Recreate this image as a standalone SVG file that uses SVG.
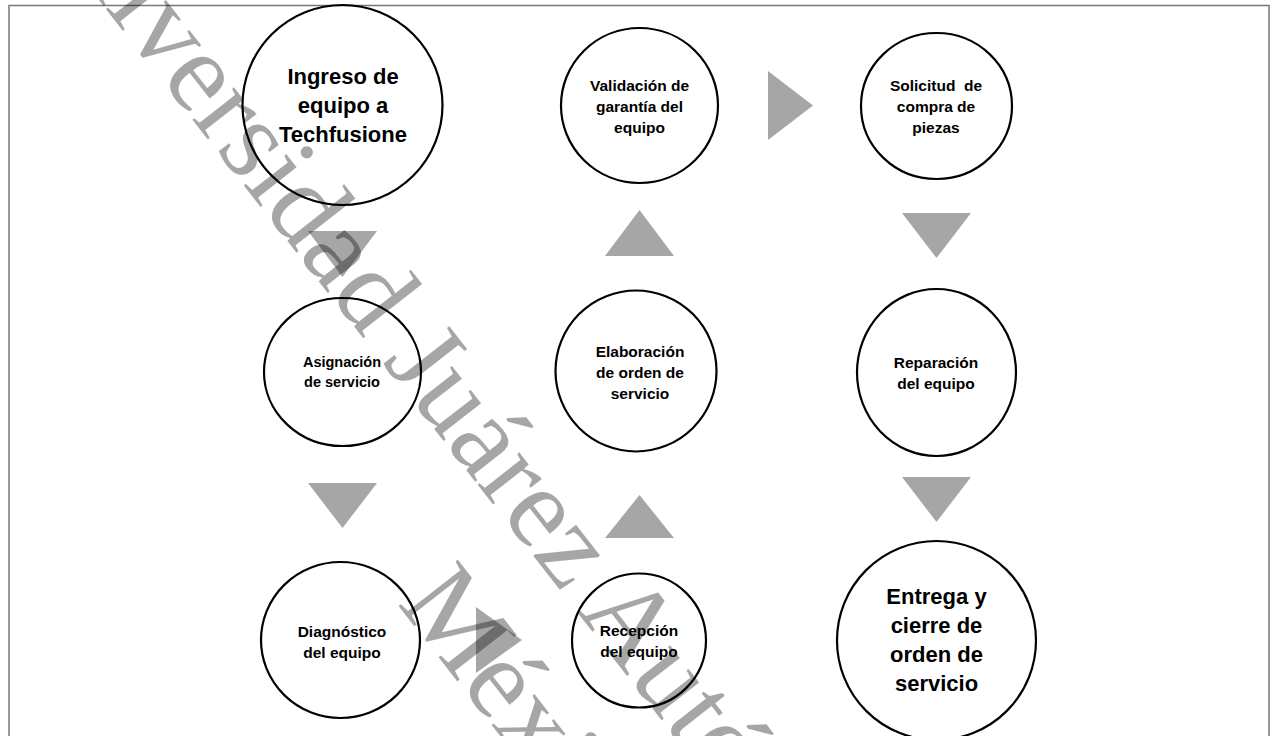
<svg xmlns="http://www.w3.org/2000/svg" width="1273" height="736" viewBox="0 0 1273 736">
<style>
.node{fill:none;stroke:#000;stroke-width:2.2}
.big{font-family:"Liberation Sans",Arial,sans-serif;font-weight:bold;font-size:22px;fill:#000;text-anchor:middle}
.sm{font-family:"Liberation Sans",Arial,sans-serif;font-weight:bold;font-size:15.5px;fill:#000;text-anchor:middle}
.tri{fill:#a6a6a6}
.wm{font-family:"Liberation Serif","Times New Roman",serif;font-size:115px;fill:#000;fill-opacity:0.35;text-anchor:middle}
</style>
<rect x="0" y="0" width="1273" height="736" fill="#fff"/>
<rect x="9" y="5.5" width="1260" height="745" fill="none" stroke="#777" stroke-width="1.5"/>
<g id="connectors">
<polygon class="tri" points="308,231 377,231 342.5,277"/>
<polygon class="tri" points="308,483 377,483 342.5,528"/>
<polygon class="tri" points="476,607 476,673 522,640"/>
<polygon class="tri" points="605,538 674,538 639.5,495"/>
<polygon class="tri" points="605,256 674,256 639.5,210"/>
<polygon class="tri" points="768,71 768,140 813,105.5"/>
<polygon class="tri" points="902,213 971,213 936.5,258"/>
<polygon class="tri" points="902,477 971,477 936.5,522"/>
</g>
<g id="n-ingreso">
<circle class="node" cx="342.5" cy="105" r="100"/>
<text class="big" x="343" y="84">Ingreso de</text>
<text class="big" x="343" y="113">equipo a</text>
<text class="big" x="343" y="142">Techfusione</text>
</g>
<g id="n-asignacion">
<ellipse class="node" cx="342.5" cy="372" rx="78.5" ry="74"/>
<text class="sm" x="342" y="367" style="font-size:14.5px">Asignación</text>
<text class="sm" x="342" y="387" style="font-size:14.5px">de servicio</text>
</g>
<g id="n-diagnostico">
<ellipse class="node" cx="340.5" cy="640" rx="79.5" ry="78"/>
<text class="sm" x="342" y="637">Diagnóstico</text>
<text class="sm" x="342" y="658">del equipo</text>
</g>
<g id="n-recepcion">
<circle class="node" cx="639" cy="640.5" r="67"/>
<text class="sm" x="639" y="636">Recepción</text>
<text class="sm" x="639" y="657">del equipo</text>
</g>
<g id="n-elaboracion">
<circle class="node" cx="636" cy="371" r="80.5"/>
<text class="sm" x="640" y="357">Elaboración</text>
<text class="sm" x="640" y="378">de orden de</text>
<text class="sm" x="640" y="399">servicio</text>
</g>
<g id="n-validacion">
<ellipse class="node" cx="639.5" cy="105.5" rx="78.5" ry="77.5"/>
<text class="sm" x="639.5" y="91">Validación de</text>
<text class="sm" x="639.5" y="112">garantía del</text>
<text class="sm" x="639.5" y="133">equipo</text>
</g>
<g id="n-solicitud">
<ellipse class="node" cx="936.5" cy="106" rx="75.5" ry="73"/>
<text class="sm" x="936" y="91" xml:space="preserve">Solicitud  de</text>
<text class="sm" x="936" y="112">compra de</text>
<text class="sm" x="936" y="133">piezas</text>
</g>
<g id="n-reparacion">
<ellipse class="node" cx="936.5" cy="372.5" rx="79.5" ry="83.5"/>
<text class="sm" x="936" y="368">Reparación</text>
<text class="sm" x="936" y="389">del equipo</text>
</g>
<g id="n-entrega">
<circle class="node" cx="936.5" cy="640.5" r="99.5"/>
<text class="big" x="936.5" y="604">Entrega y</text>
<text class="big" x="936.5" y="633">cierre de</text>
<text class="big" x="936.5" y="662">orden de</text>
<text class="big" x="936.5" y="691">servicio</text>
</g>
<g id="watermark" transform="translate(13,-110) rotate(52)">
<text class="wm" x="974" y="0">Universidad Juárez Autónoma de Tabasco</text>
<text class="wm" x="974" y="137">México</text>
</g>
</svg>
